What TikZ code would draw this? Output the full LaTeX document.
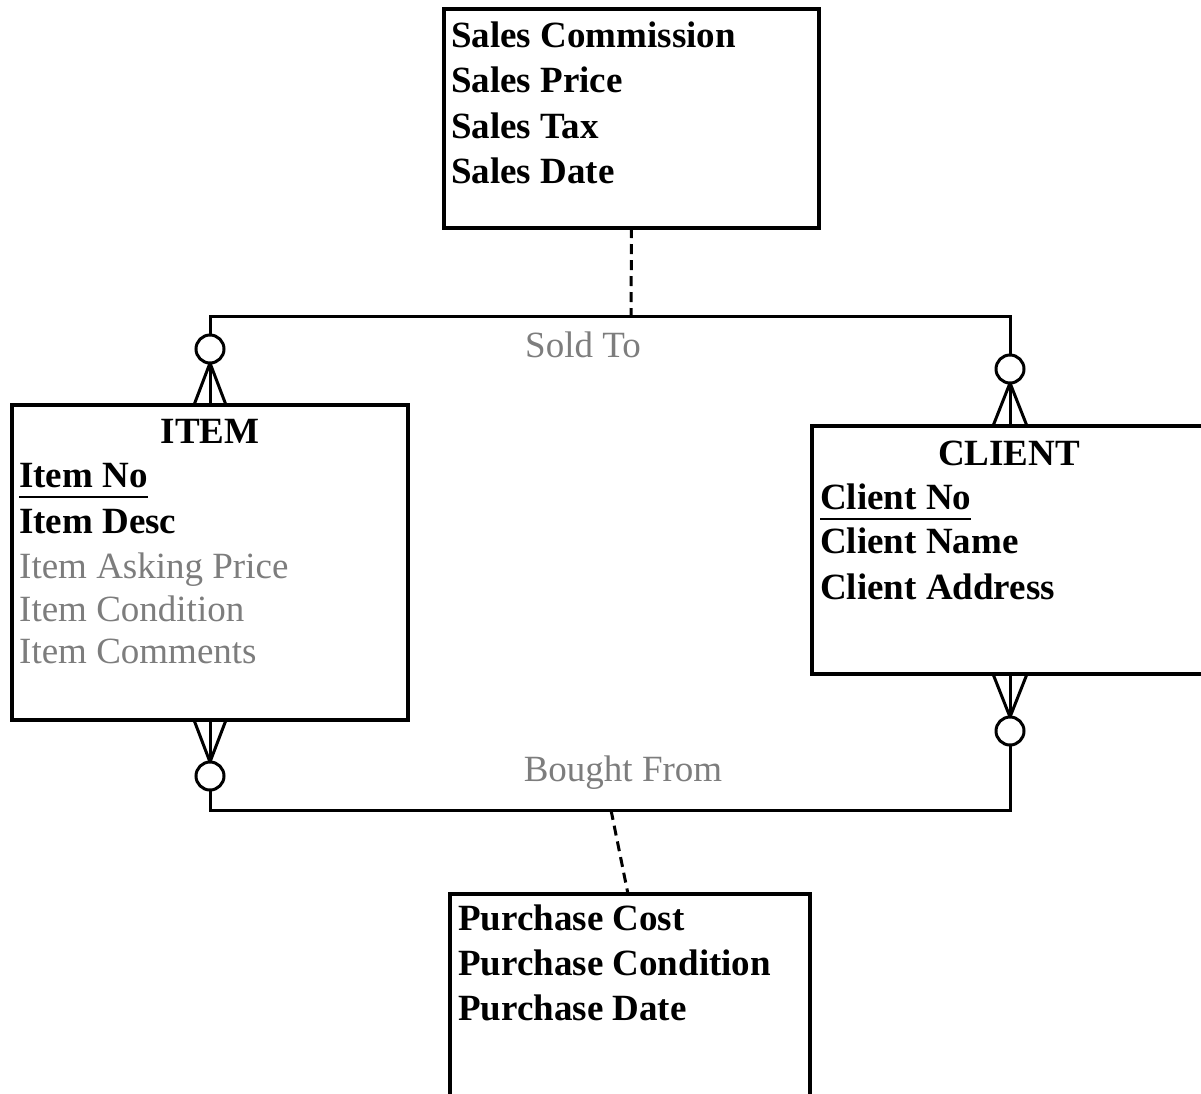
\documentclass[tikz,border=0pt]{standalone}
\usepackage{fontspec}
\setmainfont{Liberation Serif}
\definecolor{txtgray}{RGB}{125,125,125}
\newcommand\bigsz{\fontsize{37pt}{45pt}\selectfont}
\begin{document}
\begin{tikzpicture}[x=1pt,y=-1pt,
  ent/.style={draw, line width=3.5pt, inner sep=0pt, outer sep=0pt},
  bt/.style={anchor=base west, inner sep=0pt, font=\bigsz\bfseries},
  gt/.style={anchor=base west, inner sep=0pt, font=\bigsz, text=txtgray},
  ttl/.style={anchor=base, inner sep=0pt, font=\bigsz\bfseries},
  rlab/.style={anchor=base, inner sep=0pt, font=\bigsz, text=txtgray},
  ring/.style={circle, draw, line width=3pt, fill=white, minimum size=28pt, inner sep=0pt, outer sep=0pt},
  conn/.style={line width=3pt, line join=miter},
  crow/.style={line width=3pt},
  uline/.style={line width=2.5pt},
  dsh/.style={line width=3pt, dash pattern=on 10pt off 6pt}]
\useasboundingbox (0,0) rectangle (1201,1093);
\clip (0,0) rectangle (1201,1093);

% entity boxes
\node[ent, minimum width=375pt, minimum height=219pt] (sales) at (631.5,118.5) {};
\node[ent, minimum width=396pt, minimum height=315pt] (item) at (210,562.5) {};
\node[ent, minimum width=396pt, minimum height=248pt] (client) at (1010,550) {};
\node[ent, minimum width=360pt, minimum height=219pt] (purchase) at (630,1003.5) {};

% sales attributes
\node[bt] (sc) at (451,47) {Sales Commission};
\node[bt] (sp) at (451,92) {Sales Price};
\node[bt] (st) at (451,138) {Sales Tax};
\node[bt] (sd) at (451,183) {Sales Date};

% item attributes
\node[ttl] (itemttl) at (210,443) {ITEM};
\node[bt] (itemno) at (19,487) {Item No};
\draw[uline] ([yshift=-10pt]itemno.base west) -- ([yshift=-10pt]itemno.base east);
\node[bt] (itemdesc) at (19,533) {Item Desc};
\node[gt] (itemask) at (19,578) {Item Asking Price};
\node[gt] (itemcond) at (19,621) {Item Condition};
\node[gt] (itemcomm) at (19,663) {Item Comments};

% client attributes
\node[ttl] (clientttl) at (1009,465) {CLIENT};
\node[bt] (clientno) at (820,509) {Client No};
\draw[uline] ([yshift=-10pt]clientno.base west) -- ([yshift=-10pt]clientno.base east);
\node[bt] (clientname) at (820,553) {Client Name};
\node[bt] (clientaddr) at (820,599) {Client Address};

% purchase attributes
\node[bt] (pc) at (458,930) {Purchase Cost};
\node[bt] (pcond) at (458,975) {Purchase Condition};
\node[bt] (pd) at (458,1020) {Purchase Date};

% optionality rings
\node[ring] (itemtop) at (210,349) {};
\node[ring] (clienttop) at (1010,369) {};
\node[ring] (itembot) at (210,776) {};
\node[ring] (clientbot) at (1010,731) {};

% Sold To relationship
\coordinate (s1) at (210,316);
\coordinate (s2) at (1010,316);
\coordinate (sm) at (631,316);
\draw[conn] (itemtop) -- (s1) -- (s2) -- (clienttop);
\draw[dsh] (sales.south) -- (sm);
\node[rlab] (soldto) at (583,357) {Sold To};

% Bought From relationship
\coordinate (b1) at (210,810);
\coordinate (b2) at (1010,810);
\coordinate (bm) at (611,810);
\draw[conn] (itembot) -- (b1) -- (b2) -- (clientbot);
\draw[dsh] (bm) -- ([xshift=-2pt]purchase.north);
\node[rlab] (bought) at (623,781) {Bought From};

% crow's feet
\foreach \d in {-16,0,16} {
  \draw[crow] (itemtop.south) -- ([xshift=\d pt]item.north);
  \draw[crow] (itembot.north) -- ([xshift=\d pt]item.south);
}
\foreach \d in {-17,0,17} {
  \draw[crow] (clienttop.south) -- ([xshift=\d pt]client.north);
  \draw[crow] (clientbot.north) -- ([xshift=\d pt]client.south);
}
\end{tikzpicture}
\end{document}
